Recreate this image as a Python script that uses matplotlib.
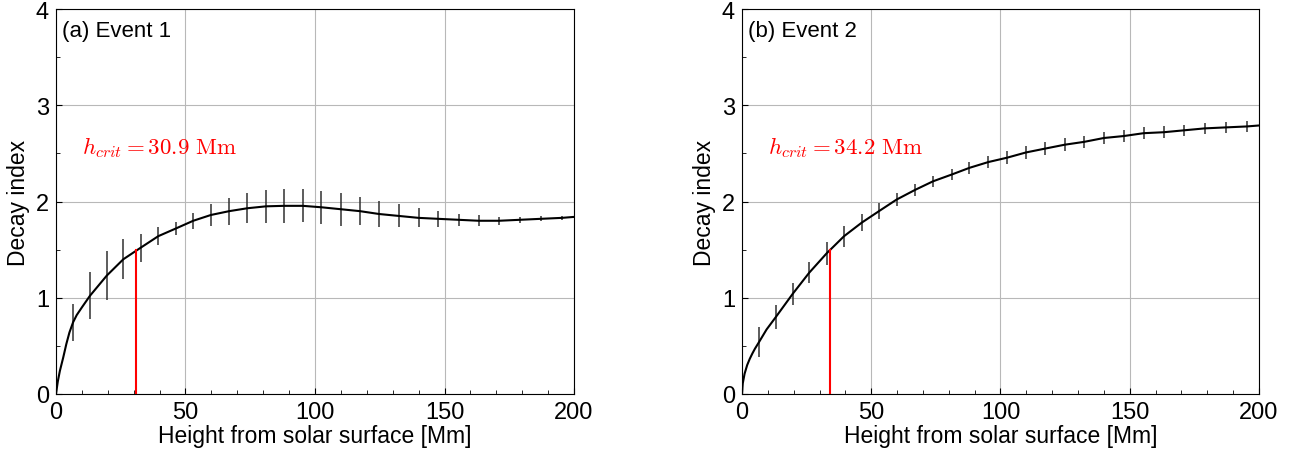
import numpy as np
from matplotlib import pyplot as plt
from matplotlib.ticker import MultipleLocator

plt.rcParams['font.family'] = ['Liberation Sans', 'DejaVu Sans']
plt.rcParams['mathtext.fontset'] = 'cm'

# heights of the error-bar points [Mm]
h_bar = [6.6, 13.1, 19.6, 26.0, 32.7, 39.5, 46.3, 53.0, 59.8, 66.9, 73.9, 81.1, 88.0,
         95.3, 102.5, 109.9, 117.3, 124.8, 132.4, 140.0, 147.6, 155.4, 163.2, 171.1,
         179.1, 187.1, 195.3]

# Event 1
n1_bar = [0.745, 1.02, 1.23, 1.40, 1.52, 1.64, 1.72, 1.80, 1.86, 1.90, 1.93, 1.95, 1.955,
          1.955, 1.94, 1.92, 1.90, 1.87, 1.85, 1.83, 1.82, 1.81, 1.80, 1.80, 1.81, 1.82, 1.83]
e1_bar = [0.195, 0.245, 0.255, 0.21, 0.145, 0.09, 0.07, 0.085, 0.115, 0.14, 0.155, 0.17,
          0.175, 0.17, 0.17, 0.17, 0.145, 0.135, 0.12, 0.10, 0.08, 0.065, 0.055, 0.04,
          0.03, 0.026, 0.02]
h1_low = [0, 0.7, 1.5, 2.8, 4.0, 5.2]
n1_low = [0, 0.13, 0.24, 0.38, 0.52, 0.64]
h1_mid = [8.0, 10.0]
n1_mid = [0.82, 0.90]
n1_end = 1.84
hcrit1 = 30.9

# Event 2
n2_bar = [0.54, 0.80, 1.04, 1.26, 1.46, 1.64, 1.78, 1.90, 2.02, 2.12, 2.21, 2.28, 2.35,
          2.41, 2.455, 2.51, 2.55, 2.59, 2.62, 2.66, 2.68, 2.71, 2.72, 2.74, 2.76, 2.77, 2.78]
e2_bar = [0.16, 0.12, 0.115, 0.11, 0.115, 0.11, 0.09, 0.08, 0.07, 0.06, 0.06, 0.06, 0.06,
          0.065, 0.07, 0.07, 0.065, 0.065, 0.065, 0.06, 0.06, 0.06, 0.06, 0.06, 0.06, 0.06, 0.06]
h2_low = [0, 0.3, 1.0, 2.0, 3.0, 4.0, 5.0]
n2_low = [0, 0.11, 0.21, 0.30, 0.365, 0.42, 0.47]
h2_mid = [9.5]
n2_mid = [0.67]
n2_end = 2.79
hcrit2 = 34.2

n_crit = 1.5


def panel(ax, hl, nl, hm, nm, nb, eb, nend, hc, title):
    h = np.array(hl + hm + h_bar + [200])
    n = np.array(nl + nm + nb + [nend])
    order = np.argsort(h)
    ax.plot(h[order], n[order], color='k', lw=1.5, zorder=3)
    ax.errorbar(h_bar, nb, yerr=eb, fmt='none', ecolor='#303030', elinewidth=1.1,
                capsize=0, zorder=2)
    ax.plot([hc, hc], [0, n_crit], color='red', lw=1.5, zorder=4)
    ax.text(10, 2.5, r'$h_{crit} = %.1f\ \mathrm{Mm}$' % hc, color='red', fontsize=16.5)
    ax.text(0.012, 0.943, title, transform=ax.transAxes, fontsize=16, va='center')
    ax.set_xlim(0, 200)
    ax.set_ylim(0, 4)
    ax.xaxis.set_major_locator(MultipleLocator(50))
    ax.xaxis.set_minor_locator(MultipleLocator(10))
    ax.yaxis.set_major_locator(MultipleLocator(1))
    ax.yaxis.set_minor_locator(MultipleLocator(0.5))
    ax.tick_params(which='both', direction='in', labelsize=17)
    ax.tick_params(which='major', length=4, pad=5)
    ax.tick_params(which='minor', length=3)
    ax.grid(True, which='major', color='#b8b8b8', lw=0.8)
    ax.set_axisbelow(True)
    ax.set_xlabel('Height from solar surface [Mm]', fontsize=16.5, labelpad=1)
    ax.set_ylabel('Decay index', fontsize=16.5, labelpad=4)


fig = plt.figure(figsize=(12.99, 4.56), dpi=100)
ax1 = fig.add_axes([0.0431, 0.1338, 0.3988, 0.8442])
ax2 = fig.add_axes([0.5712, 0.1338, 0.3980, 0.8442])
panel(ax1, h1_low, n1_low, h1_mid, n1_mid, n1_bar, e1_bar, n1_end, hcrit1, '(a) Event 1')
panel(ax2, h2_low, n2_low, h2_mid, n2_mid, n2_bar, e2_bar, n2_end, hcrit2, '(b) Event 2')
fig.savefig('out.png', dpi=100)
